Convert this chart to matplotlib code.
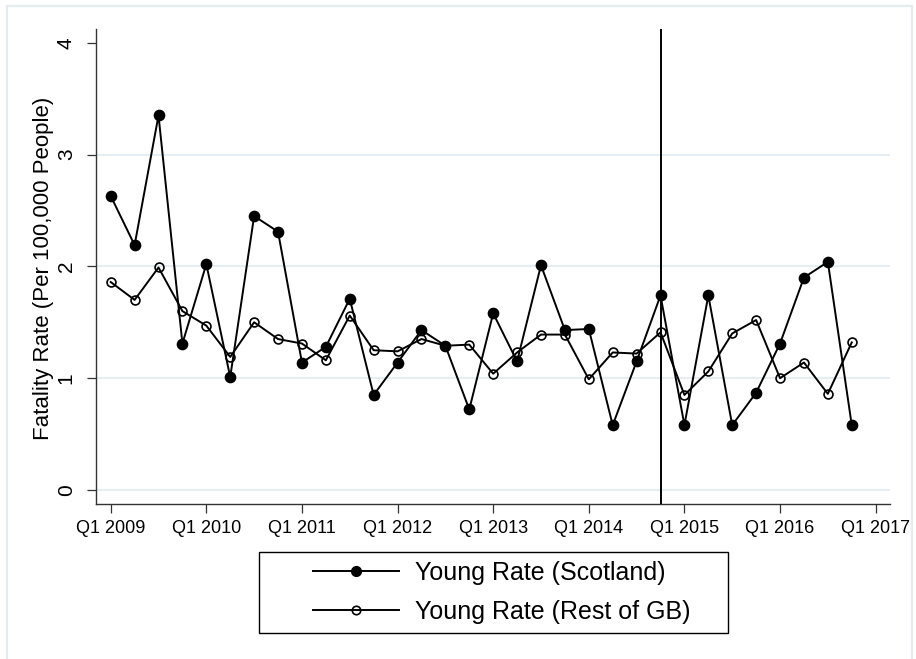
import matplotlib
matplotlib.use('Agg')
import matplotlib.pyplot as plt
import numpy as np
from matplotlib.patches import Rectangle

# ---------------- data ----------------
years = list(range(2009, 2017))
quarters = [f"Q{q} {y}" for y in years for q in range(1, 5)]

scotland = [2.63, 2.19, 3.35, 1.31,
            2.02, 1.01, 2.45, 2.31,
            1.14, 1.28, 1.71, 0.85,
            1.14, 1.43, 1.29, 0.72,
            1.58, 1.15, 2.01, 1.43,
            1.44, 0.58, 1.15, 1.74,
            0.58, 1.74, 0.58, 0.87,
            1.31, 1.90, 2.04, 0.58]

rest_gb = [1.86, 1.70, 1.99, 1.60,
           1.47, 1.19, 1.50, 1.35,
           1.31, 1.16, 1.56, 1.25,
           1.24, 1.35, 1.29, 1.30,
           1.04, 1.23, 1.39, 1.39,
           0.99, 1.23, 1.22, 1.41,
           0.85, 1.06, 1.40, 1.52,
           1.00, 1.14, 0.86, 1.32]

x_tick_labels = [f"Q1 {y}" for y in range(2009, 2018)]
y_ticks = [0, 1, 2, 3, 4]
event_quarter = "Q4 2014"
series_labels = ["Young Rate (Scotland)", "Young Rate (Rest of GB)"]
y_label = "Fatality Rate (Per 100,000 People)"

# ---------------- style ----------------
plt.rcParams['font.family'] = ['Liberation Sans', 'DejaVu Sans']
W, H = 916, 659
fig = plt.figure(figsize=(W / 100, H / 100), dpi=100)

ax_l, ax_r, ax_t, ax_b = 96, 890, 29, 504.3
ax = fig.add_axes([ax_l / W, 1 - ax_b / H, (ax_r - ax_l) / W, (ax_b - ax_t) / H])

x = np.arange(len(quarters))
h_rest, = ax.plot(x, rest_gb, color='black', lw=1.4, marker='o', ms=6.4,
                  mfc='none', mec='black', mew=1.2, zorder=3)
h_sco, = ax.plot(x, scotland, color='black', lw=1.4, marker='o', ms=7.4,
                 mfc='black', mec='black', zorder=4)
ax.axvline(quarters.index(event_quarter), color='black', lw=1.4, zorder=5)

ax.set_xlim(-0.615, 32.6)
ax.set_ylim(-0.128, 4.123)

ax.set_xticks(np.arange(0, len(quarters) + 1, 4))
ax.set_xticklabels(x_tick_labels)
ax.set_yticks(y_ticks)
ax.set_yticklabels([str(v) for v in y_ticks], rotation=90, va='center')

for s in ['top', 'right']:
    ax.spines[s].set_visible(False)
for s in ['left', 'bottom']:
    ax.spines[s].set_color('#333333')
    ax.spines[s].set_linewidth(1.0)

ax.tick_params(axis='both', length=6.5, width=0.9, color='#333333')
ax.tick_params(axis='x', labelsize=13, pad=5)
ax.tick_params(axis='y', labelsize=15, pad=8)

ax.set_axisbelow(True)
ax.yaxis.grid(True, color='#e6eef3', lw=1.5)
ax.get_ygridlines()[-1].set_visible(False)

ax.set_ylabel(y_label, fontsize=16)
ax.yaxis.set_label_coords((43 - ax_l) / (ax_r - ax_l), (ax_b - 268.5) / (ax_b - ax_t))
ax.yaxis.label.set_va('center')

# legend
fig.legend([h_sco, h_rest], series_labels, loc='center',
           bbox_to_anchor=(502 / W, 1 - 592.5 / H), frameon=False,
           fontsize=18, handlelength=3.45, handletextpad=0.64,
           labelspacing=0.6, markerscale=0.95)
fig.patches.append(Rectangle((259 / W, 1 - 633 / H), 469 / W, 81 / H,
                             transform=fig.transFigure, fill=False,
                             ec='black', lw=1.0))

# outer graph region border
fig.patches.append(Rectangle((7 / W, 1 - 668 / H), (912 - 7) / W, (668 - 6) / H,
                             transform=fig.transFigure, fill=False,
                             ec='#e4ecf0', lw=1.6))

fig.savefig('out.png', dpi=100)
